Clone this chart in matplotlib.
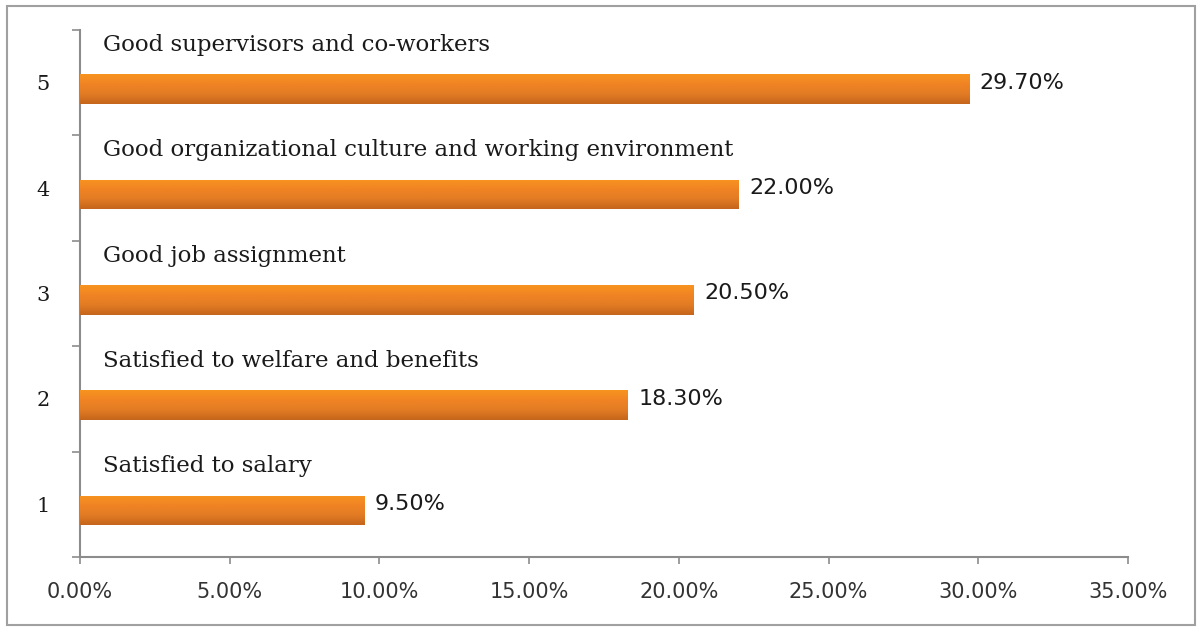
import numpy as np
import matplotlib
matplotlib.use("Agg")
import matplotlib.pyplot as plt
from matplotlib.colors import LinearSegmentedColormap
from matplotlib.patches import Rectangle

# Reasons for job satisfaction, share of respondents (%)
ranks = [1, 2, 3, 4, 5]
shares = [9.5, 18.3, 20.5, 22.0, 29.7]
reasons = [
    "Satisfied to salary",
    "Satisfied to welfare and benefits",
    "Good job assignment",
    "Good organizational culture and working environment",
    "Good supervisors and co-workers",
]
xticks = [0, 5, 10, 15, 20, 25, 30, 35]

bar_cmap = LinearSegmentedColormap.from_list(
    "bar_shade", ["#c5661c", "#e27b24", "#f08424", "#f7931f"]
)

fig = plt.figure(figsize=(12.02, 6.31), dpi=100)
fig.patches.append(Rectangle((0.006, 0.009), 0.988, 0.981, transform=fig.transFigure,
                             fill=False, edgecolor="#a0a0a0", linewidth=1.5))
ax = fig.add_axes([0.0666, 0.1173, 0.8718, 0.8352])

bars = ax.barh(np.array(ranks) - 0.06, shares, height=0.28, color="#e67e22", zorder=2)

# vertical shading on every bar
grad = np.linspace(0, 1, 64).reshape(-1, 1)
for b in bars:
    x0, y0, w, h = b.get_x(), b.get_y(), b.get_width(), b.get_height()
    im = ax.imshow(grad, cmap=bar_cmap, origin="lower", aspect="auto",
                   extent=[x0, x0 + w, y0, y0 + h], zorder=3)
    im.set_clip_path(b)

for r, s, name in zip(ranks, shares, reasons):
    ax.text(0.75, r + 0.36, name, family="DejaVu Serif", fontsize=16.5,
            color="#1a1a1a", va="center", ha="left")
    ax.text(s + 0.35, r, f"{s:.2f}%", family="DejaVu Sans", fontsize=16,
            color="#1a1a1a", va="center", ha="left")

ax.set_xlim(0, 35)
ax.set_ylim(0.5, 5.5)

ax.set_xticks(xticks)
ax.set_xticklabels([f"{t:.2f}%" for t in xticks], family="DejaVu Sans",
                   fontsize=15, color="#333333")
ax.set_yticks(ranks)
ax.set_yticklabels([str(r) for r in ranks], family="DejaVu Serif",
                   fontsize=15, color="#1a1a1a")
ax.set_yticks(np.arange(0.5, 6.0, 1.0), minor=True)

ax.tick_params(axis="x", length=5, width=1.2, color="#8c8c8c", pad=13)
ax.tick_params(axis="y", which="major", length=0, pad=22)
ax.tick_params(axis="y", which="minor", length=6, width=1.2, color="#8c8c8c")

for side in ["top", "right"]:
    ax.spines[side].set_visible(False)
for side in ["left", "bottom"]:
    ax.spines[side].set_color("#8c8c8c")
    ax.spines[side].set_linewidth(1.5)

fig.savefig("out.png", dpi=100)
